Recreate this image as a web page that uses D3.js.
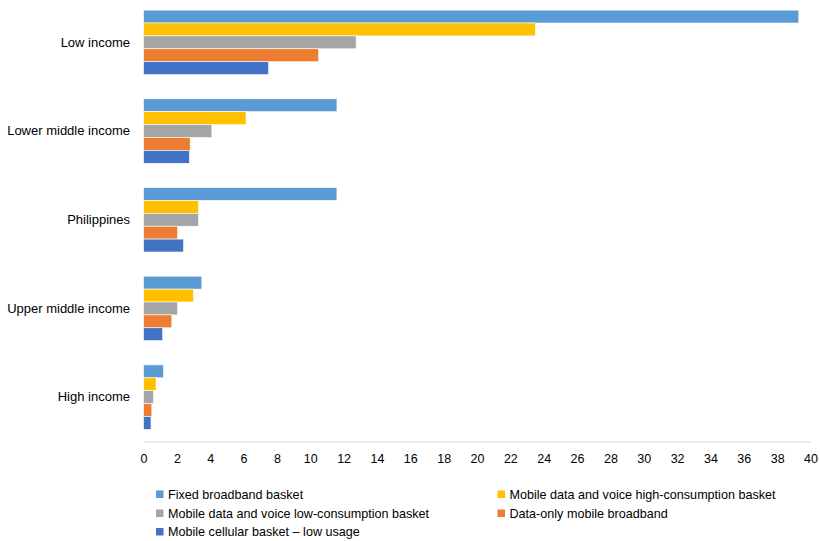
<!DOCTYPE html>
<html>
<head>
<meta charset="utf-8">
<script src="https://cdn.jsdelivr.net/npm/d3@7"></script>
<style>
  body { margin: 0; background: #fff; }
  svg text { font-family: "Liberation Sans", Arial, sans-serif; fill: #000; }
</style>
</head>
<body>
<svg id="chart" width="820" height="541"></svg>
<script>
var categories = ['Low income', 'Lower middle income', 'Philippines', 'Upper middle income', 'High income'];
var seriesNames = [
  'Fixed broadband basket',
  'Mobile data and voice high-consumption basket',
  'Mobile data and voice low-consumption basket',
  'Data-only mobile broadband',
  'Mobile cellular basket \u2013 low usage'
];
var seriesColors = ['#5B9BD5', '#FFC000', '#A5A5A5', '#ED7D31', '#4472C4'];
// one array per series, in the order of categories
var fixedBroadband = [39.3, 11.6, 11.6, 3.5, 1.2];
var mobileHigh = [23.5, 6.15, 3.3, 3.0, 0.75];
var mobileLow = [12.75, 4.1, 3.3, 2.05, 0.6];
var dataOnly = [10.5, 2.8, 2.05, 1.7, 0.5];
var cellularLow = [7.5, 2.75, 2.4, 1.15, 0.45];
var seriesValues = [fixedBroadband, mobileHigh, mobileLow, dataOnly, cellularLow];
var xTicks = d3.range(0, 41, 2);

var svg = d3.select('#chart');
// plot area edges (note: "top" is taken by window.top)
var plotLeft = 143.5, plotRight = 810.5, plotTop = -2, plotBottom = 441.5;

var x = d3.scaleLinear().domain([0, 40]).range([plotLeft, plotRight]);
var y0 = d3.scaleBand().domain(categories).range([plotTop, plotBottom])
  .paddingInner(0.273).paddingOuter(0.1365);
var y1 = d3.scaleBand().domain(d3.range(seriesNames.length)).range([0, y0.bandwidth()]);

var groups = svg.append('g').selectAll('g')
  .data(categories)
  .join('g')
  .attr('transform', function (c) { return 'translate(0,' + y0(c) + ')'; });

groups.selectAll('rect')
  .data(function (c, ci) {
    return seriesValues.map(function (vals, si) { return { s: si, v: vals[ci] }; });
  })
  .join('rect')
  .attr('x', x(0))
  .attr('y', function (d) { return y1(d.s); })
  .attr('width', function (d) { return x(d.v) - x(0); })
  .attr('height', y1.bandwidth())
  .attr('fill', function (d) { return seriesColors[d.s]; })
  .attr('stroke', '#fff')
  .attr('stroke-width', 0.6);

// x axis
var xAxis = d3.axisBottom(x).tickValues(xTicks).tickSize(0).tickPadding(13);
var gx = svg.append('g').attr('transform', 'translate(0,' + plotBottom + ')').call(xAxis);
gx.select('.domain').attr('stroke', '#d9d9d9').attr('stroke-width', 1);
gx.selectAll('text').style('font-size', '12.5px');

// category labels
var yAxis = d3.axisLeft(y0).tickSize(0).tickPadding(13.5);
var gy = svg.append('g').attr('transform', 'translate(' + plotLeft + ',0)').call(yAxis);
gy.select('.domain').remove();
gy.selectAll('text').style('font-size', '13px');

// legend
var legendPos = [
  [156, 494.5], [497.5, 494.5],
  [156, 513.5], [497.5, 513.5],
  [156, 532]
];
var legend = svg.append('g').selectAll('g')
  .data(seriesNames)
  .join('g')
  .attr('transform', function (d, i) { return 'translate(' + legendPos[i][0] + ',' + legendPos[i][1] + ')'; });
legend.append('rect')
  .attr('x', 0).attr('y', -4)
  .attr('width', 7.5).attr('height', 7.5)
  .attr('fill', function (d, i) { return seriesColors[i]; });
legend.append('text')
  .attr('x', 12).attr('dy', '0.35em')
  .style('font-size', '12.6px')
  .text(function (d) { return d; });
</script>
</body>
</html>
